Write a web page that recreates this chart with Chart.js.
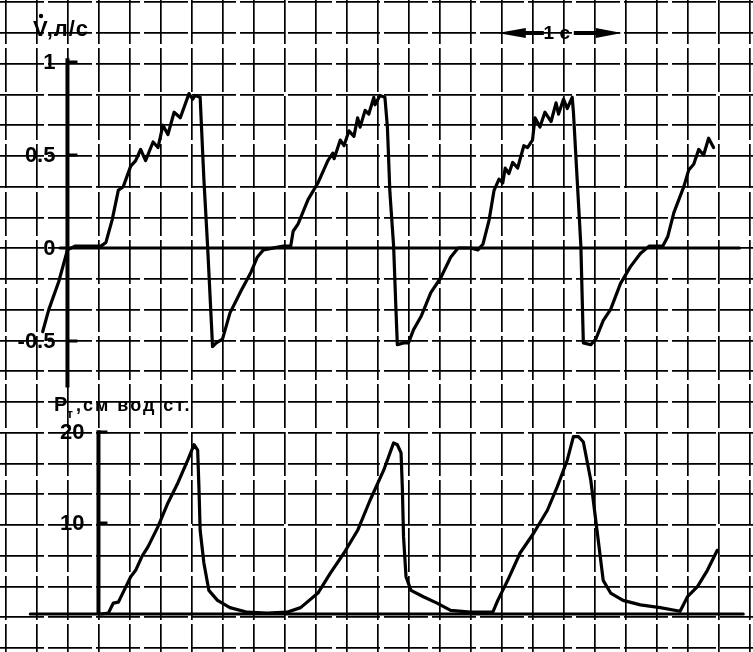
<!DOCTYPE html>
<html>
<head>
<meta charset="utf-8">
<script src="https://cdn.jsdelivr.net/npm/chart.js@4.4.1/dist/chart.umd.min.js"></script>
<style>
  html, body { margin: 0; background: #fff; }
  #wrap { width: 753px; height: 652px; }
</style>
</head>
<body>
<div id="wrap"><canvas id="c"></canvas></div>
<script>
// flow V (l/s) vs time (s)
const flowTime = [-0.20, -0.15, -0.07, 0.00, 0.06, 0.27, 0.31, 0.36, 0.41, 0.45, 0.51, 0.55, 0.59, 0.63, 0.69, 0.73,
  0.77, 0.81, 0.86, 0.91, 0.98, 1.01, 1.03, 1.07, 1.10, 1.13, 1.17, 1.20, 1.25, 1.31, 1.40, 1.48, 1.53, 1.58, 1.74, 1.80,
  1.82, 1.86, 1.94, 2.02, 2.10, 2.14, 2.15, 2.20, 2.23, 2.27, 2.31, 2.34, 2.36, 2.40, 2.43, 2.47, 2.48, 2.52, 2.56,
  2.58, 2.60, 2.63, 2.65, 2.66, 2.71, 2.75, 2.79, 2.85, 2.93, 3.01, 3.09, 3.15, 3.25, 3.31, 3.35, 3.40, 3.44, 3.48,
  3.51, 3.53, 3.56, 3.59, 3.63, 3.68, 3.71, 3.75, 3.77, 3.81, 3.85, 3.90, 3.94, 3.96, 4.00, 4.03, 4.07, 4.08, 4.11,
  4.14, 4.16, 4.22, 4.26, 4.32, 4.38, 4.46, 4.54, 4.62, 4.69, 4.80, 4.84, 4.89, 4.97, 5.01, 5.05, 5.09, 5.13, 5.17, 5.21];
const flowValues = [-0.45, -0.33, -0.18, -0.01, 0.01, 0.01, 0.03, 0.15, 0.31, 0.33, 0.44, 0.47, 0.53, 0.47, 0.57, 0.54,
  0.66, 0.61, 0.73, 0.70, 0.83, 0.80, 0.82, 0.81, 0.37, 0.01, -0.53, -0.51, -0.49, -0.35, -0.23, -0.13, -0.05, -0.01, 0.01, 0.01,
  0.09, 0.13, 0.26, 0.35, 0.47, 0.51, 0.48, 0.58, 0.55, 0.63, 0.60, 0.70, 0.65, 0.74, 0.72, 0.81, 0.77, 0.82, 0.81,
  0.65, 0.30, 0.01, -0.35, -0.52, -0.51, -0.51, -0.44, -0.37, -0.24, -0.16, -0.05, 0.00, 0.00, -0.01, 0.02, 0.15, 0.31, 0.37,
  0.35, 0.43, 0.40, 0.46, 0.43, 0.55, 0.54, 0.58, 0.70, 0.65, 0.73, 0.68, 0.78, 0.72, 0.80, 0.75, 0.81, 0.73, 0.37,
  0.01, -0.51, -0.52, -0.49, -0.39, -0.33, -0.19, -0.10, -0.03, 0.01, 0.01, 0.06, 0.19, 0.33, 0.42, 0.45, 0.53, 0.50, 0.59, 0.54];

// tracheal pressure (cm H2O) vs time (s)
const pressTime = [0.27, 0.33, 0.37, 0.41, 0.45, 0.51, 0.55, 0.60, 0.65, 0.73, 0.81, 0.89, 0.97, 1.02, 1.05, 1.06, 1.07,
  1.10, 1.14, 1.21, 1.31, 1.45, 1.61, 1.77, 1.88, 2.02, 2.12, 2.23, 2.34, 2.44, 2.55, 2.63, 2.66, 2.69, 2.70, 2.71,
  2.73, 2.77, 2.87, 2.98, 3.09, 3.25, 3.43, 3.47, 3.55, 3.65, 3.76, 3.87, 3.95, 4.03, 4.08, 4.12, 4.16, 4.22, 4.27,
  4.32, 4.38, 4.48, 4.62, 4.78, 4.94, 5.00, 5.08, 5.16, 5.24];
const pressValues = [0, 0.1, 1.2, 1.3, 2.4, 4.1, 4.8, 6.3, 7.4, 9.6, 12.2, 14.4, 16.9, 18.6, 18.0, 14.0, 9.2,
  5.6, 2.6, 1.5, 0.7, 0.2, 0.1, 0.2, 0.7, 2.3, 4.5, 6.7, 9.2, 12.5, 15.8, 18.8, 18.6, 17.7, 14.0, 8.5,
  4.1, 2.6, 1.9, 1.2, 0.4, 0.2, 0.2, 1.5, 3.7, 6.7, 8.9, 11.4, 14.0, 16.9, 19.5, 19.5, 18.9, 14.7, 9.2,
  3.7, 2.3, 1.5, 1.0, 0.7, 0.3, 1.9, 3.0, 4.8, 7.0];

const flowTicks = [1, 0.5, 0, -0.5];
const flowTickLabels = ["1", "0.5", "0", "-0.5"];
const pressTicks = [20, 10];
const pressTickLabels = ["20", "10"];

const flowZeroSpan = [-0.06, 5.42];
const pressZeroSpan = [-0.30, 5.45];
const flowAxisSpan = [1.02, -0.75];
const pressAxisSpan = [20.2, 0];
const flowAxisAt = 0;       // s
const pressAxisAt = 0.25;   // s
const secondBarStart = 3.47; // s, "1 с" bar

const pts = (xs, ys) => xs.map((x, i) => ({ x: x, y: ys[i] }));

const FONT = '"Liberation Sans", Arial, sans-serif';

const axesPlugin = {
  id: "axes",
  afterDatasetsDraw(chart) {
    const ctx = chart.ctx;
    const x = chart.scales.x, v = chart.scales.v, p = chart.scales.p;
    ctx.save();
    ctx.strokeStyle = "#000";
    ctx.fillStyle = "#000";
    ctx.lineCap = "butt";

    // flow axis
    const vx = x.getPixelForValue(flowAxisAt);
    ctx.lineWidth = 4;
    ctx.beginPath();
    ctx.moveTo(vx, v.getPixelForValue(flowAxisSpan[0]));
    ctx.lineTo(vx, v.getPixelForValue(flowAxisSpan[1]));
    ctx.stroke();
    ctx.font = "bold 22px " + FONT;
    ctx.textAlign = "right";
    ctx.textBaseline = "middle";
    flowTicks.forEach((t, i) => {
      const y = v.getPixelForValue(t);
      if (t !== 0) {
        ctx.lineWidth = 3;
        ctx.beginPath();
        ctx.moveTo(vx, y);
        ctx.lineTo(vx + 10, y);
        ctx.stroke();
      }
      ctx.fillText(flowTickLabels[i], vx - 12, y + 1);
    });

    // flow title
    ctx.textAlign = "left";
    ctx.textBaseline = "alphabetic";
    ctx.font = "bold 22px " + FONT;
    ctx.letterSpacing = "1px";
    ctx.fillText("V,л/с", 33, 36);
    ctx.letterSpacing = "0px";
    ctx.beginPath();
    ctx.arc(41, 16, 2.2, 0, Math.PI * 2);
    ctx.fill();

    // pressure axis
    const px = x.getPixelForValue(pressAxisAt);
    ctx.lineWidth = 4;
    ctx.beginPath();
    ctx.moveTo(px, p.getPixelForValue(pressAxisSpan[0]));
    ctx.lineTo(px, p.getPixelForValue(pressAxisSpan[1]));
    ctx.stroke();
    ctx.font = "bold 22px " + FONT;
    ctx.textAlign = "right";
    ctx.textBaseline = "middle";
    pressTicks.forEach((t, i) => {
      const y = p.getPixelForValue(t);
      ctx.lineWidth = 3;
      ctx.beginPath();
      ctx.moveTo(px, y);
      ctx.lineTo(px + 9, y);
      ctx.stroke();
      ctx.fillText(pressTickLabels[i], px - 14, y + 1);
    });

    // pressure title
    ctx.textAlign = "left";
    ctx.textBaseline = "alphabetic";
    ctx.font = "bold 20px " + FONT;
    ctx.fillText("P", 54, 411);
    ctx.font = "bold 12px " + FONT;
    ctx.fillText("т", 67, 418);
    ctx.font = "bold 18px " + FONT;
    ctx.letterSpacing = "2px";
    ctx.fillText(",см вод ст.", 76, 411);
    ctx.letterSpacing = "0px";

    // 1 s bar
    const a = x.getPixelForValue(secondBarStart);
    const b = x.getPixelForValue(secondBarStart + 1);
    const ay = 33;
    const mid = (a + b) / 2;
    ctx.lineWidth = 4;
    ctx.beginPath();
    ctx.moveTo(a + 20, ay); ctx.lineTo(mid - 16, ay);
    ctx.moveTo(mid + 14, ay); ctx.lineTo(b - 18, ay);
    ctx.stroke();
    ctx.beginPath();
    ctx.moveTo(a, ay); ctx.lineTo(a + 28, ay - 5); ctx.lineTo(a + 28, ay + 5); ctx.closePath();
    ctx.moveTo(b, ay); ctx.lineTo(b - 26, ay - 5); ctx.lineTo(b - 26, ay + 5); ctx.closePath();
    ctx.fill();
    ctx.font = "bold 19px " + FONT;
    ctx.textAlign = "center";
    ctx.textBaseline = "middle";
    ctx.fillText("1 с", mid - 3, ay + 1);
    ctx.restore();
  }
};

const gridStyle = {
  grid: { color: "#000", lineWidth: 1.7, drawTicks: false },
  border: { display: false, dash: [44, 4] },
};

new Chart(document.getElementById("c"), {
  type: "line",
  data: {
    datasets: [
      { data: pts(flowTime, flowValues), yAxisID: "v", borderColor: "#000", borderWidth: 3.2 },
      { data: flowZeroSpan.map(t => ({ x: t, y: 0 })), yAxisID: "v", borderColor: "#000", borderWidth: 3 },
      { data: pts(pressTime, pressValues), yAxisID: "p", borderColor: "#000", borderWidth: 3.2 },
      { data: pressZeroSpan.map(t => ({ x: t, y: 0 })), yAxisID: "p", borderColor: "#000", borderWidth: 3 },
    ],
  },
  options: {
    responsive: true, maintainAspectRatio: false, animation: false, events: [],
    layout: { padding: 0 },
    elements: {
      point: { radius: 0 },
      line: { tension: 0, borderJoinStyle: "round", borderCapStyle: "round", fill: false },
    },
    plugins: { legend: { display: false }, tooltip: { enabled: false } },
    scales: {
      x: Object.assign({
        type: "linear", min: -0.544, max: 5.528,
        ticks: { display: false, stepSize: 0.25, includeBounds: false },
        afterFit: s => { s.height = 0; },
      }, gridStyle),
      g: Object.assign({
        type: "linear", position: "left", min: -13.13, max: 8.073,
        ticks: { display: false, stepSize: 1, includeBounds: false },
        afterFit: s => { s.width = 0; },
      }, gridStyle),
      v: { type: "linear", display: false, min: -2.172, max: 1.3333 },
      p: { type: "linear", display: false, min: -4.176, max: 67.47 },
    },
  },
  plugins: [axesPlugin],
});
</script>
</body>
</html>
